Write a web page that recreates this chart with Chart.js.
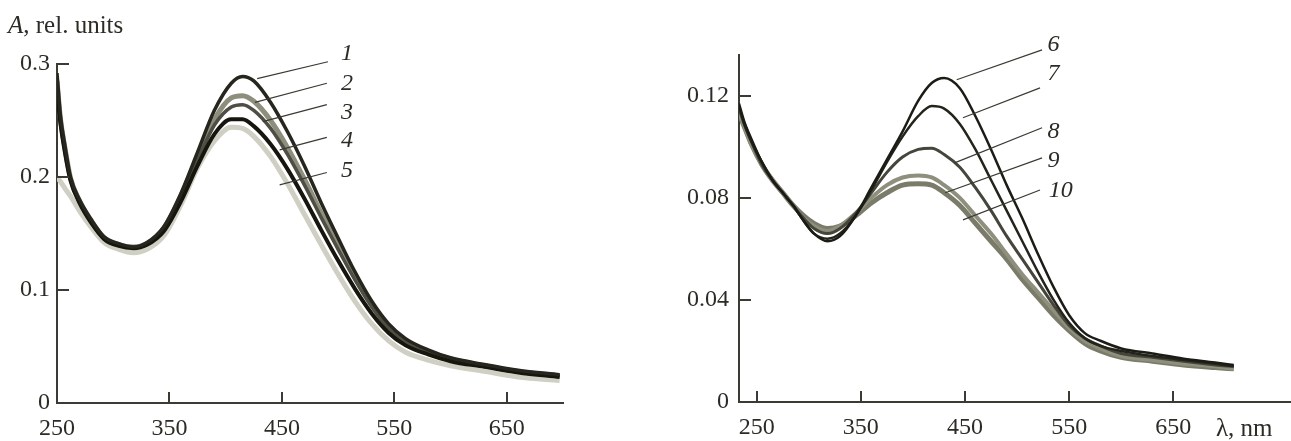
<!DOCTYPE html>
<html>
<head>
<meta charset="utf-8">
<script src="https://cdn.jsdelivr.net/npm/chart.js@4"></script>
<style>
  body { margin: 0; background: #fff; width: 1291px; height: 441px; overflow: hidden; }
  .panel { position: absolute; top: 0; height: 441px; }
</style>
</head>
<body>
<div class="panel" style="left:0;width:600px"><canvas id="leftChart"></canvas></div>
<div class="panel" style="left:660px;width:631px"><canvas id="rightChart"></canvas></div>
<script>
// left panel: curves 1-5
const wavelengthsLeft = [250, 253, 257, 262, 270, 280, 292, 305, 318, 330, 345, 360, 375, 390, 405, 415, 425, 440, 455, 470, 485, 500, 515, 530, 545, 560, 580, 600, 630, 660, 697];
const absorb1 = [0.292, 0.255, 0.228, 0.200, 0.180, 0.163, 0.147, 0.141, 0.138, 0.142, 0.156, 0.185, 0.222, 0.259, 0.283, 0.289, 0.285, 0.266, 0.240, 0.210, 0.177, 0.146, 0.116, 0.090, 0.070, 0.057, 0.047, 0.040, 0.034, 0.029, 0.025];
const absorb2 = [0.285, 0.252, 0.226, 0.199, 0.179, 0.162, 0.146, 0.140, 0.138, 0.141, 0.155, 0.183, 0.218, 0.251, 0.270, 0.272, 0.267, 0.250, 0.226, 0.198, 0.168, 0.139, 0.111, 0.087, 0.068, 0.055, 0.045, 0.039, 0.033, 0.028, 0.024];
const absorb3 = [0.280, 0.250, 0.224, 0.198, 0.178, 0.161, 0.146, 0.140, 0.138, 0.141, 0.154, 0.181, 0.215, 0.246, 0.262, 0.264, 0.259, 0.243, 0.220, 0.193, 0.164, 0.136, 0.109, 0.085, 0.066, 0.054, 0.045, 0.039, 0.033, 0.028, 0.024];
const absorb4 = [0.275, 0.248, 0.222, 0.197, 0.177, 0.160, 0.145, 0.139, 0.137, 0.140, 0.152, 0.178, 0.210, 0.238, 0.251, 0.251, 0.245, 0.229, 0.207, 0.181, 0.153, 0.126, 0.101, 0.079, 0.062, 0.051, 0.043, 0.037, 0.032, 0.027, 0.023];
const absorb5 = [0.200, 0.196, 0.190, 0.183, 0.170, 0.156, 0.142, 0.136, 0.133, 0.136, 0.148, 0.175, 0.208, 0.232, 0.244, 0.243, 0.236, 0.218, 0.194, 0.167, 0.140, 0.114, 0.090, 0.070, 0.055, 0.045, 0.038, 0.033, 0.028, 0.023, 0.020];

// right panel: curves 6-10
const wavelengthsRight = [233, 238, 245, 255, 265, 275, 285, 295, 305, 318, 330, 345, 360, 375, 390, 405, 418, 430, 445, 460, 475, 490, 505, 520, 535, 550, 565, 580, 600, 630, 660, 690, 708];
const absorb6 = [0.117, 0.110, 0.103, 0.094, 0.087, 0.082, 0.077, 0.071, 0.066, 0.063, 0.065, 0.073, 0.084, 0.095, 0.106, 0.118, 0.125, 0.127, 0.123, 0.112, 0.099, 0.085, 0.072, 0.058, 0.045, 0.034, 0.027, 0.024, 0.021, 0.019, 0.017, 0.0155, 0.0145];
const absorb7 = [0.116, 0.109, 0.102, 0.094, 0.087, 0.082, 0.077, 0.071, 0.066, 0.064, 0.066, 0.073, 0.083, 0.094, 0.104, 0.112, 0.116, 0.115, 0.109, 0.099, 0.087, 0.075, 0.063, 0.051, 0.040, 0.031, 0.025, 0.022, 0.020, 0.018, 0.0165, 0.015, 0.014];
const absorb8 = [0.115, 0.109, 0.102, 0.093, 0.087, 0.082, 0.077, 0.072, 0.068, 0.066, 0.068, 0.074, 0.082, 0.090, 0.096, 0.099, 0.0995, 0.097, 0.092, 0.084, 0.075, 0.065, 0.056, 0.047, 0.038, 0.030, 0.025, 0.022, 0.019, 0.0175, 0.016, 0.0145, 0.014];
const absorb9 = [0.114, 0.108, 0.101, 0.093, 0.087, 0.082, 0.077, 0.072, 0.069, 0.067, 0.069, 0.074, 0.080, 0.085, 0.088, 0.0888, 0.088, 0.085, 0.080, 0.073, 0.066, 0.058, 0.050, 0.043, 0.036, 0.029, 0.024, 0.021, 0.018, 0.0165, 0.015, 0.014, 0.013];
const absorb10 = [0.113, 0.108, 0.101, 0.093, 0.087, 0.082, 0.077, 0.073, 0.070, 0.068, 0.069, 0.073, 0.078, 0.082, 0.085, 0.0855, 0.085, 0.082, 0.077, 0.070, 0.063, 0.056, 0.048, 0.041, 0.034, 0.028, 0.023, 0.020, 0.0175, 0.016, 0.0145, 0.0135, 0.013];

const xTicks = [250, 350, 450, 550, 650];
const yTicksLeft = [0, 0.1, 0.2, 0.3];
const yTicksRight = [0, 0.04, 0.08, 0.12];

const curveNamesLeft = ["1", "2", "3", "4", "5"];
const curveNamesRight = ["6", "7", "8", "9", "10"];

// leader lines [x1, y1, x2, y2] and label anchors, in data units
const leadersLeft = [[428, 0.287, 491, 0.302], [426, 0.266, 490, 0.283], [433, 0.249, 490, 0.264], [448, 0.224, 490, 0.235], [448, 0.193, 490, 0.204]];
const labelAtLeft = [[508, 0.309], [508, 0.283], [508, 0.257], [508, 0.232], [508, 0.206]];
const leadersRight = [[442, 0.1263, 524, 0.138], [448, 0.1114, 522, 0.1231], [440, 0.0937, 524, 0.1075], [431, 0.082, 524, 0.0957], [448, 0.0714, 522, 0.0831]];
const labelAtRight = [[535, 0.1400], [535, 0.1285], [535, 0.1060], [535, 0.0945], [542, 0.0830]];

const AXIS_COLOR = "#3b3b33";
const TEXT_COLOR = "#2c2c26";
const FONT = '"Liberation Serif", "DejaVu Serif", serif';

function points(xs, ys) {
    return xs.map((x, i) => ({ x: x, y: ys[i] }));
}

function curve(xs, ys, color, width) {
    return {
        data: points(xs, ys),
        borderColor: color,
        borderWidth: width,
        pointRadius: 0,
        cubicInterpolationMode: "monotone",
        fill: false,
    };
}

function leader(l) {
    return {
        data: [{ x: l[0], y: l[1] }, { x: l[2], y: l[3] }],
        borderColor: AXIS_COLOR,
        borderWidth: 1.2,
        pointRadius: 0,
        clip: false,
    };
}

function makeOverlay(cfg) {
    return {
        id: "overlay",
        afterDraw(chart) {
            const ctx = chart.ctx;
            const xs = chart.scales.x;
            const ys = chart.scales.y;
            ctx.save();

            // ticks point into the plot
            ctx.strokeStyle = AXIS_COLOR;
            ctx.lineWidth = 2;
            ctx.beginPath();
            ys.ticks.forEach(t => {
                if (t.value === 0) return;
                const py = Math.round(ys.getPixelForValue(t.value));
                ctx.moveTo(xs.left, py);
                ctx.lineTo(xs.left + 12, py);
            });
            xs.ticks.forEach(t => {
                const px = Math.round(xs.getPixelForValue(t.value));
                if (px <= xs.left + 2) return;
                ctx.moveTo(px, ys.bottom);
                ctx.lineTo(px, ys.bottom - 11);
            });
            ctx.stroke();

            ctx.fillStyle = TEXT_COLOR;
            ctx.font = "italic 24px " + FONT;
            ctx.textAlign = "center";
            ctx.textBaseline = "middle";
            cfg.names.forEach((name, i) => {
                ctx.fillText(name, xs.getPixelForValue(cfg.labelAt[i][0]), ys.getPixelForValue(cfg.labelAt[i][1]));
            });

            // axis caption
            ctx.textAlign = "left";
            ctx.textBaseline = "alphabetic";
            let x = cfg.caption.x;
            cfg.caption.parts.forEach(p => {
                ctx.font = (p.italic ? "italic " : "") + cfg.caption.size + "px " + FONT;
                ctx.fillText(p.text, x, cfg.caption.y);
                x += ctx.measureText(p.text).width;
            });
            ctx.restore();
        },
    };
}

function axisOptions(min, max, ticks, fitSize, padding, isX) {
    return {
        type: "linear",
        min: min,
        max: max,
        afterBuildTicks: s => { s.ticks = ticks.map(v => ({ value: v })); },
        afterFit: s => {
            if (isX) s.height = fitSize;
            else s.width = fitSize;
        },
        grid: { display: false, drawTicks: false },
        border: { display: true, color: AXIS_COLOR, width: 2 },
        ticks: {
            autoSkip: false,
            maxRotation: 0,
            padding: padding,
            color: TEXT_COLOR,
            font: { family: FONT, size: 24 },
            callback: v => String(v),
        },
    };
}

function createChart(id, datasets, scales, padding, overlay) {
    const ctx = document.getElementById(id).getContext("2d");
    return new Chart(ctx, {
        type: "line",
        data: { datasets: datasets },
        options: {
            responsive: true,
            maintainAspectRatio: false,
            animation: false,
            layout: { padding: padding },
            plugins: { legend: { display: false }, tooltip: { enabled: false } },
            scales: scales,
        },
        plugins: [overlay],
    });
}

createChart(
    "leftChart",
    [
        ...leadersLeft.map(leader),
        curve(wavelengthsLeft, absorb1, "#26261f", 3.5),
        curve(wavelengthsLeft, absorb4, "#16160f", 4),
        curve(wavelengthsLeft, absorb3, "#4e4e44", 3.5),
        curve(wavelengthsLeft, absorb2, "#8e8e7c", 5),
        curve(wavelengthsLeft, absorb5, "#cfcfc3", 5),
    ],
    {
        x: axisOptions(250, 700, xTicks, 38, 11, true),
        y: axisOptions(0, 0.3, yTicksLeft, 57, 7, false),
    },
    { top: 64, right: 37, left: 0, bottom: 0 },
    makeOverlay({
        names: curveNamesLeft,
        labelAt: labelAtLeft,
        caption: { x: 8, y: 33, size: 25, parts: [{ text: "A", italic: true }, { text: ", rel. units" }] },
    })
);

createChart(
    "rightChart",
    [
        ...leadersRight.map(leader),
        curve(wavelengthsRight, absorb6, "#1c1c16", 2.5),
        curve(wavelengthsRight, absorb7, "#24241d", 2.5),
        curve(wavelengthsRight, absorb8, "#45453b", 3),
        curve(wavelengthsRight, absorb9, "#8f8f7e", 4),
        curve(wavelengthsRight, absorb10, "#7b7b6a", 5),
    ],
    {
        x: axisOptions(233, 762, xTicks, 39, 11, true),
        y: axisOptions(0, 0.136, yTicksRight, 79, 10, false),
    },
    { top: 55, right: 1, left: 0, bottom: 0 },
    makeOverlay({
        names: curveNamesRight,
        labelAt: labelAtRight,
        caption: { x: 556, y: 436, size: 25, parts: [{ text: "λ, nm" }] },
    })
);
</script>
</body>
</html>
